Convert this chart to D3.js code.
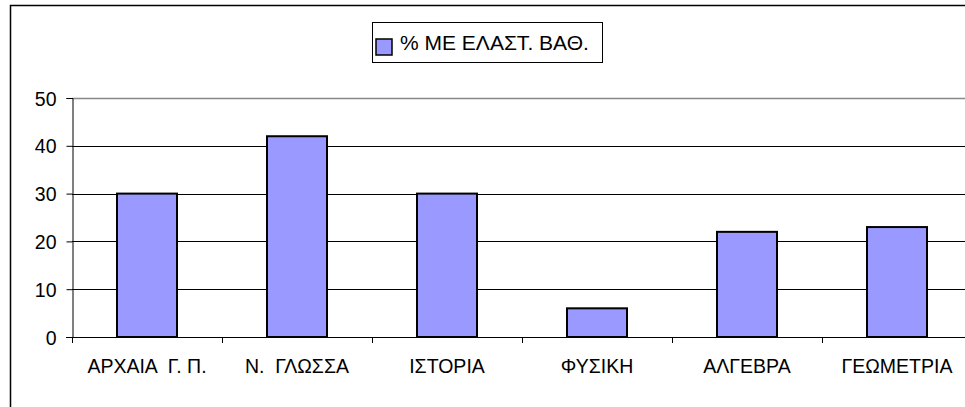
<!DOCTYPE html>
<html>
<head>
<meta charset="utf-8">
<script src="https://cdn.jsdelivr.net/npm/d3@7"></script>
<style>
body { margin: 0; background: #fff; }
text { font-family: "Liberation Sans", Arial, sans-serif; fill: #000; }
</style>
</head>
<body>
<svg id="chart" width="965" height="407"></svg>
<script>
const subjects = ["ΑΡΧΑΙΑ  Γ. Π.", "Ν.  ΓΛΩΣΣΑ", "ΙΣΤΟΡΙΑ", "ΦΥΣΙΚΗ", "ΑΛΓΕΒΡΑ", "ΓΕΩΜΕΤΡΙΑ"];
const percent = [30, 42, 30, 6, 22, 23];
const yTicks = [0, 10, 20, 30, 40, 50];
const seriesName = "% ΜΕ ΕΛΑΣΤ. ΒΑΘ.";

const svg = d3.select("#chart");

// outer chart frame (runs past the window on the right and bottom)
svg.append("rect")
	.attr("x", 10.5).attr("y", 5.5)
	.attr("width", 1000).attr("height", 500)
	.attr("fill", "none")
	.attr("stroke", "#000")
	.attr("stroke-width", 1.5);

const x = d3.scaleBand()
	.domain(subjects)
	.range([72, 972])
	.paddingInner(0.6)
	.paddingOuter(0.3);

const y = d3.scaleLinear()
	.domain([0, 50])
	.range([337, 98]);

// gridlines
svg.append("g")
	.selectAll("line")
	.data(yTicks.filter(d => d > 0))
	.enter()
	.append("line")
	.attr("x1", 72).attr("x2", 972)
	.attr("y1", d => Math.round(y(d)) + 0.5)
	.attr("y2", d => Math.round(y(d)) + 0.5)
	.attr("stroke", d => d === 50 ? "#888" : "#000")
	.attr("stroke-width", d => d === 50 ? 1.5 : 1);

// bars
svg.append("g")
	.selectAll("rect")
	.data(percent)
	.enter()
	.append("rect")
	.attr("x", (d, i) => x(subjects[i]))
	.attr("y", d => y(d))
	.attr("width", x.bandwidth())
	.attr("height", d => y(0) - y(d))
	.attr("fill", "#9999ff")
	.attr("stroke", "#000")
	.attr("stroke-width", 2);

// y axis
const yAxis = svg.append("g")
	.attr("transform", "translate(72.5,0)")
	.call(d3.axisLeft(y).tickValues(yTicks).tickSize(6).tickPadding(10));
yAxis.select(".domain").attr("stroke", "#000");
yAxis.selectAll("line").attr("stroke", "#000");
yAxis.selectAll("text")
	.style("font-size", "19.5px")
	.attr("dy", "0.36em")
	.attr("font-family", null);

// x axis: line at 0 and ticks on category boundaries
const bounds = d3.range(subjects.length + 1).map(i => 72 + i * x.step());
svg.append("line")
	.attr("x1", 66).attr("x2", 972)
	.attr("y1", Math.round(y(0)) + 0.5).attr("y2", Math.round(y(0)) + 0.5)
	.attr("stroke", "#000");
svg.append("g")
	.selectAll("line")
	.data(bounds)
	.enter()
	.append("line")
	.attr("x1", d => Math.round(d) + 0.5).attr("x2", d => Math.round(d) + 0.5)
	.attr("y1", y(0)).attr("y2", y(0) + 6)
	.attr("stroke", "#000");

svg.append("g")
	.selectAll("text")
	.data(subjects)
	.enter()
	.append("text")
	.attr("x", d => x(d) + x.bandwidth() / 2)
	.attr("y", 373)
	.attr("text-anchor", "middle")
	.style("font-size", "19.5px")
	.style("white-space", "pre")
	.text(d => d);

// legend
const legend = svg.append("g");
legend.append("rect")
	.attr("x", 372.5).attr("y", 22.5)
	.attr("width", 230).attr("height", 40)
	.attr("fill", "#fff")
	.attr("stroke", "#000");
legend.append("rect")
	.attr("x", 376).attr("y", 39)
	.attr("width", 16).attr("height", 16)
	.attr("fill", "#9999ff")
	.attr("stroke", "#000")
	.attr("stroke-width", 1.5);
legend.append("text")
	.attr("x", 400)
	.attr("y", 50)
	.style("font-size", "21px")
	.text(seriesName);
</script>
</body>
</html>
